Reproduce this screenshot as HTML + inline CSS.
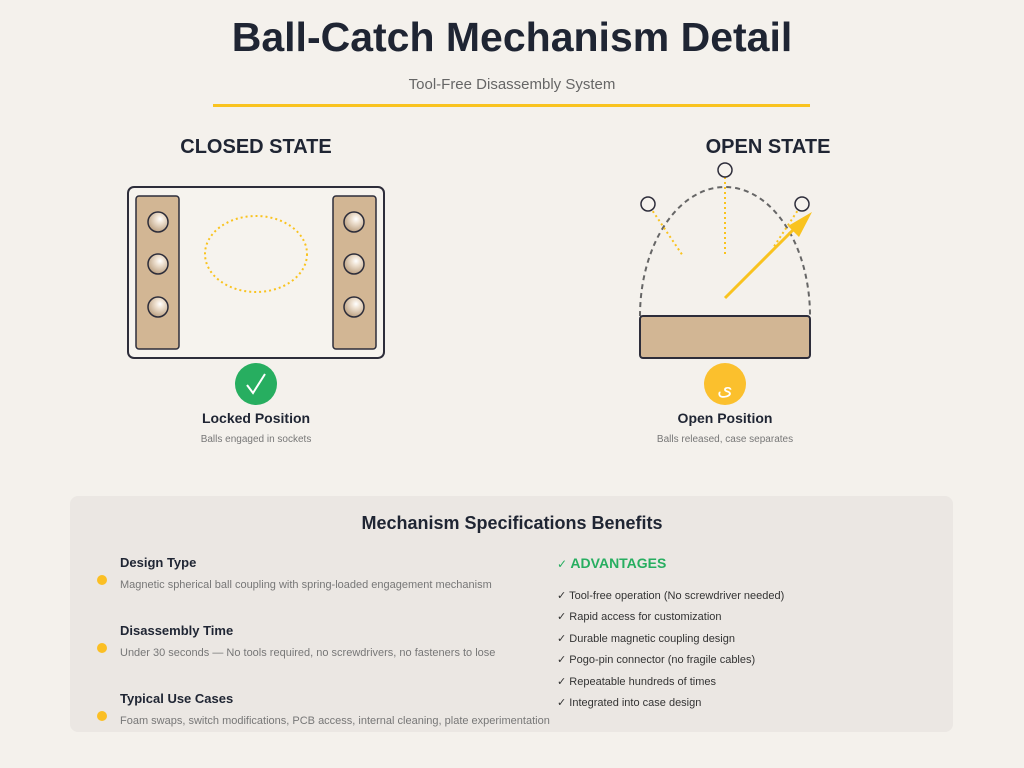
<!DOCTYPE html>
<html><head><meta charset="utf-8"><style>
body{margin:0;width:1024px;height:768px;background:#f4f1ec;font-family:"Liberation Sans",sans-serif;position:relative;overflow:hidden}
.a{position:absolute;white-space:nowrap}
.c{transform:translateX(-50%)}
</style></head><body>
<div class="a c" style="left:512px;top:14px;font-size:41px;font-weight:bold;color:#1f2533">Ball-Catch Mechanism Detail</div>
<div class="a c" style="left:512px;top:76px;font-size:15px;color:#666">Tool-Free Disassembly System</div>
<div class="a" style="left:213px;top:104px;width:597px;height:3px;background:#f9c31f"></div>
<div class="a c" style="left:256px;top:136px;font-size:20px;font-weight:bold;color:#1f2533">CLOSED STATE</div>
<div class="a c" style="left:768px;top:136px;font-size:20px;font-weight:bold;color:#1f2533">OPEN STATE</div>
<div class="a" style="left:70px;top:496px;width:883px;height:236px;background:#ebe7e3;border-radius:8px"></div>
<svg class="a" style="left:0;top:0" width="1024" height="768">
<defs><radialGradient id="g" cx="0.6" cy="0.35" r="0.7"><stop offset="0" stop-color="#fff"/><stop offset="0.3" stop-color="#efe2d2"/><stop offset="1" stop-color="#b89c7c"/></radialGradient></defs>
<rect x="128" y="187" width="256" height="171" rx="6" fill="#f6f3ee" stroke="#2d2d3a" stroke-width="2"/>
<rect x="136" y="196" width="43" height="153" rx="3" fill="#d2b694" stroke="#2d2d3a" stroke-width="1.5"/>
<rect x="333" y="196" width="43" height="153" rx="3" fill="#d2b694" stroke="#2d2d3a" stroke-width="1.5"/>
<g fill="url(#g)" stroke="#2d2d3a" stroke-width="1.5">
<circle cx="158" cy="222" r="10"/><circle cx="158" cy="264" r="10"/><circle cx="158" cy="307" r="10"/>
<circle cx="354" cy="222" r="10"/><circle cx="354" cy="264" r="10"/><circle cx="354" cy="307" r="10"/></g>
<ellipse cx="256" cy="254" rx="51" ry="38" fill="none" stroke="#f9c31f" stroke-width="2" stroke-dasharray="2 3"/>
<circle cx="256" cy="384" r="21" fill="#27ae60"/>
<path d="M247 385 L253 393 L265 374" fill="none" stroke="#fff" stroke-width="2"/>
<path d="M640 316 A85 129 0 0 1 810 316" fill="none" stroke="#666" stroke-width="2" stroke-dasharray="5 4"/>
<g stroke="#f9c31f" stroke-width="2" stroke-dasharray="2 3"><line x1="650" y1="207" x2="683" y2="256"/><line x1="725" y1="177" x2="725" y2="256"/><line x1="800" y1="207" x2="773" y2="248"/></g>
<g fill="#f6f3ee" stroke="#2d2d3a" stroke-width="1.5"><circle cx="648" cy="204" r="7"/><circle cx="725" cy="170" r="7"/><circle cx="802" cy="204" r="7"/></g>
<line x1="725" y1="298" x2="798" y2="225" stroke="#f9c31f" stroke-width="3"/>
<polygon points="812,212 788,226 799,237" fill="#f9c31f"/>
<rect x="640" y="316" width="170" height="42" rx="3" fill="#d2b694" stroke="#2d2d3a" stroke-width="2"/>
<circle cx="725" cy="384" r="21" fill="#fbc02d"/>
<text x="725" y="395" text-anchor="middle" font-size="20" fill="#fff" font-family="DejaVu Sans">ى</text>
<g fill="#fbbf24"><circle cx="102" cy="580" r="5"/><circle cx="102" cy="648" r="5"/><circle cx="102" cy="716" r="5"/></g>
</svg>
<div class="a c" style="left:256px;top:410px;font-size:14px;font-weight:bold;color:#1f2533">Locked Position</div>
<div class="a c" style="left:256px;top:434px;font-size:10px;color:#777">Balls engaged in sockets</div>
<div class="a c" style="left:725px;top:410px;font-size:14px;font-weight:bold;color:#1f2533">Open Position</div>
<div class="a c" style="left:725px;top:434px;font-size:10px;color:#777">Balls released, case separates</div>
<div class="a c" style="left:512px;top:513px;font-size:18px;font-weight:bold;color:#1f2533">Mechanism Specifications Benefits</div>
<div class="a" style="left:120px;top:555px;font-size:13px;font-weight:bold;color:#1f2533">Design Type</div>
<div class="a" style="left:120px;top:579px;font-size:11px;color:#777">Magnetic spherical ball coupling with spring-loaded engagement mechanism</div>
<div class="a" style="left:120px;top:623px;font-size:13px;font-weight:bold;color:#1f2533">Disassembly Time</div>
<div class="a" style="left:120px;top:647px;font-size:11px;color:#777">Under 30 seconds — No tools required, no screwdrivers, no fasteners to lose</div>
<div class="a" style="left:120px;top:691px;font-size:13px;font-weight:bold;color:#1f2533">Typical Use Cases</div>
<div class="a" style="left:120px;top:715px;font-size:11px;color:#777">Foam swaps, switch modifications, PCB access, internal cleaning, plate experimentation</div>
<div class="a" style="left:557px;top:555px;font-size:14px;font-weight:bold;color:#27ae60"><span style="font-weight:normal;font-family:'DejaVu Sans';font-size:12px">✓</span> ADVANTAGES</div>
<div class="a" style="left:557px;top:586px;font-size:11px;color:#333;line-height:21.4px">✓ Tool-free operation (No screwdriver needed)<br>✓ Rapid access for customization<br>✓ Durable magnetic coupling design<br>✓ Pogo-pin connector (no fragile cables)<br>✓ Repeatable hundreds of times<br>✓ Integrated into case design</div>
</body></html>
